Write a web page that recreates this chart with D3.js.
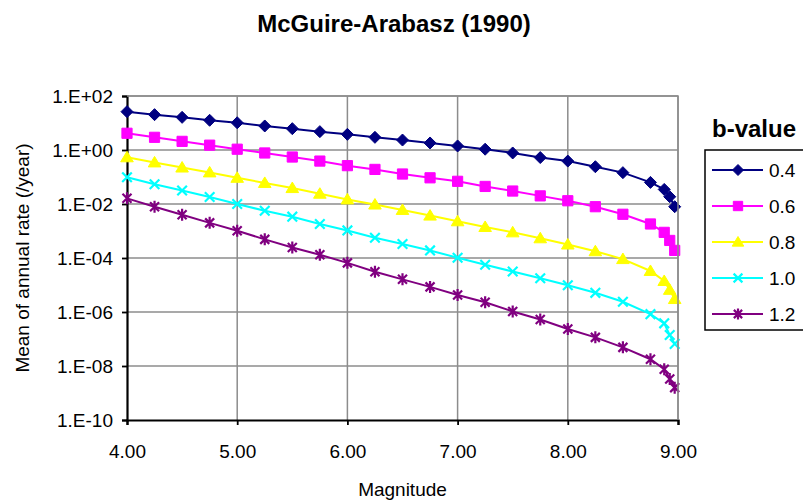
<!DOCTYPE html>
<html>
<head>
<meta charset="utf-8">
<script src="https://cdn.jsdelivr.net/npm/d3@7"></script>
<style>
  body { margin: 0; background: #fff; }
  svg { display: block; }
  text { font-family: "Liberation Sans", Arial, sans-serif; fill: #000; }
</style>
</head>
<body>
<svg id="chart" width="803" height="502"></svg>
<script>
// Magnitude values at which the mean annual rates were evaluated
const magnitudes = [4.00, 4.25, 4.50, 4.75, 5.00, 5.25, 5.50, 5.75, 6.00, 6.25, 6.50, 6.75,
                    7.00, 7.25, 7.50, 7.75, 8.00, 8.25, 8.50, 8.75, 8.875, 8.925, 8.97];

// Mean annual exceedance rate (/year) for each b-value
const rateB04 = [26.3, 20.4, 16.2, 12.6, 10.2, 7.76, 6.17, 4.79, 3.80, 2.95, 2.34, 1.82,
                 1.41, 1.07, 0.776, 0.525, 0.389, 0.240, 0.145, 0.0631, 0.0347, 0.0186, 0.00794];
const rateB06 = [4.17, 2.95, 2.09, 1.51, 1.07, 0.776, 0.550, 0.389, 0.263, 0.191, 0.129, 0.0933,
                 0.0692, 0.0447, 0.0302, 0.0200, 0.0132, 0.00794, 0.00417, 0.00182, 8.91e-4, 4.47e-4, 1.91e-4];
const rateB08 = [0.537, 0.347, 0.224, 0.148, 0.0933, 0.0603, 0.0389, 0.0240, 0.0148, 0.00955, 0.00603, 0.00372,
                 0.00229, 0.00141, 8.91e-4, 5.37e-4, 3.16e-4, 1.78e-4, 9.12e-5, 3.31e-5, 1.41e-5, 6.61e-6, 3.02e-6];
const rateB10 = [0.0977, 0.0537, 0.0316, 0.0182, 0.0100, 5.62e-3, 3.39e-3, 1.82e-3, 1.05e-3, 5.62e-4, 3.31e-4, 1.91e-4,
                 1.02e-4, 5.62e-5, 3.16e-5, 1.78e-5, 9.77e-6, 5.13e-6, 2.40e-6, 8.32e-7, 3.80e-7, 1.41e-7, 6.61e-8];
const rateB12 = [0.0162, 7.94e-3, 3.98e-3, 2.00e-3, 1.02e-3, 4.90e-4, 2.45e-4, 1.32e-4, 6.61e-5, 3.09e-5, 1.62e-5, 8.51e-6,
                 4.27e-6, 2.29e-6, 1.05e-6, 5.25e-7, 2.34e-7, 1.15e-7, 4.90e-8, 1.78e-8, 7.59e-9, 3.31e-9, 1.58e-9];

const bValueLabels = ["0.4", "0.6", "0.8", "1.0", "1.2"];

// Axis ticks
const xTicks = [4, 5, 6, 7, 8, 9];
const xTickLabels = ["4.00", "5.00", "6.00", "7.00", "8.00", "9.00"];
const yTicks = [1e2, 1e0, 1e-2, 1e-4, 1e-6, 1e-8, 1e-10];
const yTickLabels = ["1.E+02", "1.E+00", "1.E-02", "1.E-04", "1.E-06", "1.E-08", "1.E-10"];

const seriesRates = [rateB04, rateB06, rateB08, rateB10, rateB12];
const seriesColors = ["#000080", "#ff00ff", "#ffff00", "#00ffff", "#800080"];
const seriesMarkers = ["diamond", "square", "triangle", "cross", "star"];

const series = bValueLabels.map((label, i) => ({
  label,
  color: seriesColors[i],
  marker: seriesMarkers[i],
  points: magnitudes.map((m, j) => ({ m, rate: seriesRates[i][j] }))
}));

const svg = d3.select("#chart");

const plot = { left: 127, right: 678, top: 96, bottom: 420 };
const x = d3.scaleLinear().domain([4, 9]).range([plot.left, plot.right]);
const y = d3.scaleLog().domain([1e-10, 1e2]).range([plot.bottom, plot.top]);

// Title
svg.append("text")
  .attr("x", 394).attr("y", 32)
  .attr("text-anchor", "middle")
  .style("font-size", "24px").style("font-weight", "bold")
  .text("McGuire-Arabasz (1990)");

// Gridlines
const grid = svg.append("g").attr("stroke", "#8c8c8c").attr("stroke-width", 1.5);
grid.selectAll("line.h").data(yTicks.filter(t => t > 1e-10)).join("line")
  .attr("x1", plot.left).attr("x2", plot.right)
  .attr("y1", d => y(d)).attr("y2", d => y(d));
grid.selectAll("line.v").data(xTicks.filter(t => t > 4)).join("line")
  .attr("x1", d => x(d)).attr("x2", d => x(d))
  .attr("y1", plot.top).attr("y2", plot.bottom);

// Axes
const yAxis = svg.append("g")
  .attr("transform", `translate(${plot.left},0)`)
  .call(d3.axisLeft(y).tickValues(yTicks).tickFormat((d, i) => yTickLabels[i]).tickSize(5).tickPadding(9));
const xAxis = svg.append("g")
  .attr("transform", `translate(0,${plot.bottom})`)
  .call(d3.axisBottom(x).tickValues(xTicks).tickFormat((d, i) => xTickLabels[i]).tickSize(5).tickPadding(20));
[yAxis, xAxis].forEach(g => {
  g.select(".domain").attr("stroke", "#000").attr("stroke-width", 2.2);
  g.selectAll(".tick line").attr("stroke", "#000").attr("stroke-width", 1.8);
  g.selectAll(".tick text").style("font-size", "19px").attr("fill", "#000");
  g.attr("font-family", null).attr("font-size", null);
});

// Axis titles
svg.append("text")
  .attr("x", (plot.left + plot.right) / 2).attr("y", 496)
  .attr("text-anchor", "middle")
  .style("font-size", "19px")
  .text("Magnitude");
svg.append("text")
  .attr("transform", "translate(29,258) rotate(-90)")
  .attr("text-anchor", "middle")
  .style("font-size", "19px")
  .text("Mean of annual rate (/year)");

// Marker shapes
function markerPath(type, r) {
  switch (type) {
    case "diamond": return `M0,${-r}L${r},0L0,${r}L${-r},0Z`;
    case "square": return `M${-r * 0.85},${-r * 0.85}H${r * 0.85}V${r * 0.85}H${-r * 0.85}Z`;
    case "triangle": return `M0,${-r}L${r * 1.05},${r * 0.75}L${-r * 1.05},${r * 0.75}Z`;
    case "cross": return `M${-r * 0.8},${-r * 0.8}L${r * 0.8},${r * 0.8}M${r * 0.8},${-r * 0.8}L${-r * 0.8},${r * 0.8}`;
    case "star": return `M${-r * 0.75},${-r * 0.75}L${r * 0.75},${r * 0.75}M${r * 0.75},${-r * 0.75}L${-r * 0.75},${r * 0.75}M0,${-r}V${r}`;
  }
}
function drawMarker(sel, s, r) {
  const filled = s.marker === "diamond" || s.marker === "square" || s.marker === "triangle";
  sel.attr("d", markerPath(s.marker, r))
    .attr("fill", filled ? s.color : "none")
    .attr("stroke", s.color)
    .attr("stroke-width", filled ? 1 : 2.2);
}

// Series lines and markers
const line = d3.line().x(d => x(d.m)).y(d => y(d.rate));
const seriesG = svg.append("g");
series.forEach(s => {
  const g = seriesG.append("g");
  g.append("path").datum(s.points)
    .attr("d", line)
    .attr("fill", "none")
    .attr("stroke", s.color)
    .attr("stroke-width", 2);
  g.selectAll("path.mk").data(s.points).join("path")
    .attr("class", "mk")
    .attr("transform", d => `translate(${x(d.m)},${y(d.rate)})`)
    .call(sel => drawMarker(sel, s, 6));
});

// Plot area top and right border
svg.append("path")
  .attr("d", `M${plot.left},${plot.top}H${plot.right}V${plot.bottom}`)
  .attr("fill", "none").attr("stroke", "#8c8c8c").attr("stroke-width", 1.5);

// Legend
svg.append("text")
  .attr("x", 712).attr("y", 137)
  .style("font-size", "24px").style("font-weight", "bold")
  .text("b-value");
svg.append("rect")
  .attr("x", 705).attr("y", 150).attr("width", 120).attr("height", 180)
  .attr("fill", "#fff").attr("stroke", "#000").attr("stroke-width", 1.5);
const legendItems = svg.append("g").selectAll("g").data(series).join("g")
  .attr("transform", (d, i) => `translate(0,${170 + i * 36})`);
legendItems.append("line")
  .attr("x1", 712).attr("x2", 763)
  .attr("stroke", d => d.color).attr("stroke-width", 2);
legendItems.append("path")
  .attr("transform", "translate(738,0)")
  .each(function (d) { drawMarker(d3.select(this), d, 5.5); });
legendItems.append("text")
  .attr("x", 769).attr("dy", "0.36em")
  .style("font-size", "19px")
  .text(d => d.label);
</script>
</body>
</html>
